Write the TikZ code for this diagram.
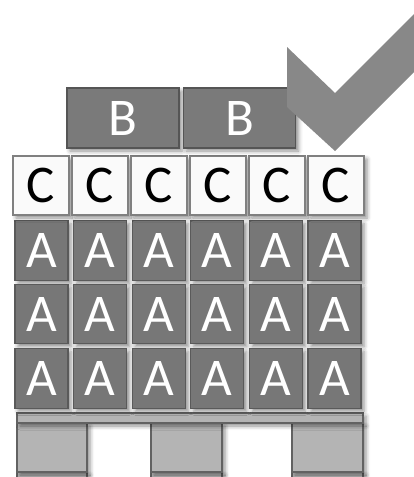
\documentclass[tikz,border=0pt]{standalone}
\usepackage{fontspec}
\setmainfont{Carlito}
\usetikzlibrary{shadows.blur}
\definecolor{boxA}{HTML}{777777}
\definecolor{edgeA}{HTML}{5A5A5A}
\definecolor{boxB}{HTML}{7A7A7A}
\definecolor{edgeB}{HTML}{555555}
\definecolor{boxC}{HTML}{FAFAFA}
\definecolor{edgeC}{HTML}{808080}
\definecolor{pallet}{HTML}{B4B4B4}
\definecolor{edgeP}{HTML}{626262}
\definecolor{checkc}{HTML}{888888}
\begin{document}
\begin{tikzpicture}[x=1pt,y=-1pt,
  base/.style={rectangle, inner sep=0pt, outer sep=0pt, line width=1.1pt,
    font=\fontsize{53}{60}\selectfont,
    blur shadow={shadow xshift=3pt, shadow yshift=-3pt, shadow blur radius=4pt, shadow opacity=45}},
  abox/.style={base, fill=boxA, draw=edgeA, text=white, minimum width=53pt, minimum height=59.5pt},
  bbox/.style={base, fill=boxB, draw=edgeB, text=white, minimum width=112pt, minimum height=60pt},
  cbox/.style={base, fill=boxC, draw=edgeC, text=black, minimum width=56pt, minimum height=59pt},
  pbox/.style={base, fill=pallet, draw=edgeP, line width=1.2pt}]
\useasboundingbox (0,0) rectangle (414,477);
\clip (0,0) rectangle (414,477);
% pallet
\node[pbox, minimum width=70pt, minimum height=24pt] (p1b) at (52,484) {};
\node[pbox, minimum width=71pt, minimum height=24pt] (p2b) at (186.5,484) {};
\node[pbox, minimum width=71pt, minimum height=24pt] (p3b) at (327.5,484) {};
\node[pbox, minimum width=70pt, minimum height=49pt] (p1) at (52,447.5) {};
\node[pbox, minimum width=71pt, minimum height=49pt] (p2) at (186.5,447.5) {};
\node[pbox, minimum width=71pt, minimum height=49pt] (p3) at (327.5,447.5) {};
\node[pbox, minimum width=346pt, minimum height=10pt] (top) at (190,418) {};
% A boxes
\foreach \r/\yy in {1/250.5, 2/314, 3/378.5} {
  \foreach \c in {0,...,5} {
    \node[abox] (a\r\c) at ({41.5+58.6*\c},\yy) {A};
  }
}
% C boxes
\foreach \c in {0,...,5} {
  \node[cbox] (c\c) at ({41+59*\c},185.5) {C};
}
% B boxes
\node[bbox] (b1) at (123,118) {B};
\node[bbox] (b2) at (239.5,118) {B};
% check mark
\fill[checkc] (287,47) -- (335,93) -- (430,-2) -- (430,56) -- (335,151) -- (287,107) -- cycle;
\end{tikzpicture}
\end{document}
